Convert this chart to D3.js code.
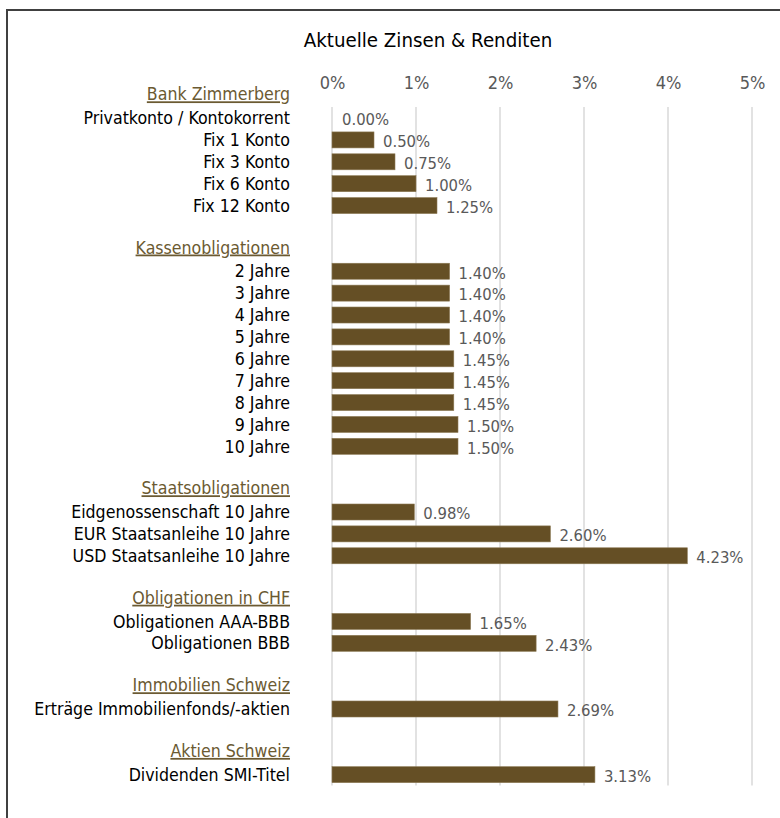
<!DOCTYPE html>
<html><head><meta charset="utf-8">
<script src="https://cdn.jsdelivr.net/npm/d3@7"></script>
<style>body{margin:0;background:#fff}svg{display:block}</style>
</head><body>
<script>
const categories = ["Bank Zimmerberg","Privatkonto / Kontokorrent","Fix 1 Konto","Fix 3 Konto","Fix 6 Konto","Fix 12 Konto","",
"Kassenobligationen","2 Jahre","3 Jahre","4 Jahre","5 Jahre","6 Jahre","7 Jahre","8 Jahre","9 Jahre","10 Jahre","",
"Staatsobligationen","Eidgenossenschaft 10 Jahre","EUR Staatsanleihe 10 Jahre","USD Staatsanleihe 10 Jahre","",
"Obligationen in CHF","Obligationen AAA-BBB","Obligationen BBB","",
"Immobilien Schweiz","Erträge Immobilienfonds/-aktien","",
"Aktien Schweiz","Dividenden SMI-Titel"];
const values = [null,0.00,0.50,0.75,1.00,1.25,null,
null,1.40,1.40,1.40,1.40,1.45,1.45,1.45,1.50,1.50,null,
null,0.98,2.60,4.23,null,
null,1.65,2.43,null,
null,2.69,null,
null,3.13];
const headers = ["Bank Zimmerberg","Kassenobligationen","Staatsobligationen","Obligationen in CHF","Immobilien Schweiz","Aktien Schweiz"];
const tickValues = [0,1,2,3,4,5];
const title = "Aktuelle Zinsen & Renditen";

const W=780,H=818;
const FONT = "'Liberation Sans Narrow','DejaVu Sans Condensed',sans-serif";
const svg = d3.select("body").append("svg").attr("width",W).attr("height",H).style("font-family",FONT);

// frame (only top & left edges visible)
svg.append("path").attr("d","M7,830 V10 H790").attr("fill","none").attr("stroke","#404040").attr("stroke-width",2);

const x = d3.scaleLinear().domain([0,5]).range([332,752]);
const y = d3.scaleBand().domain(d3.range(categories.length)).range([85.2,785.6]);
const step = y.step();

// gridlines
const gTop = y(1), gBot = y.range()[1];
svg.append("g").selectAll("line").data(tickValues).join("line")
  .attr("x1",d=>x(d)).attr("x2",d=>x(d)).attr("y1",gTop).attr("y2",gBot)
  .attr("stroke","#d9d9d9").attr("stroke-width",1.5);

// top axis labels
const axis = d3.axisTop(x).tickValues(tickValues).tickFormat(d=>d+"%").tickSize(0);
const ga = svg.append("g").attr("transform","translate(0,92)").call(axis);
ga.select(".domain").remove();
ga.selectAll("text").attr("fill","#595959").style("font-size","18px").style("font-family",FONT);

// title
svg.append("text").attr("x",428).attr("y",47).attr("text-anchor","middle")
  .style("font-size","20.3px").attr("fill","#000").text(title);

const data = categories.map((c,i)=>({c,i,v:values[i],h:headers.includes(c)}));

// category labels
svg.append("g").selectAll("text").data(data.filter(d=>d.c!=="")).join("text")
  .attr("x",290).attr("y",d=>y(d.i)+step/2 - (d.h?2:0)).attr("dy","0.35em")
  .attr("text-anchor","end")
  .attr("fill",d=>d.h?"#6b5a32":"#000")
  .style("text-decoration",d=>d.h?"underline":null)
  .style("font-size","17.6px").text(d=>d.c);

// bars
const bh = 16;
svg.append("g").selectAll("rect").data(data.filter(d=>d.v!==null)).join("rect")
  .attr("x",x(0)).attr("y",d=>y(d.i)+step/2-bh/2)
  .attr("width",d=>x(d.v)-x(0)).attr("height",bh)
  .attr("fill","#654f25").attr("stroke","#8c7a55").attr("stroke-width",0.6);

// value labels
svg.append("g").selectAll("text").data(data.filter(d=>d.v!==null)).join("text")
  .attr("x",d=>x(d.v)+(d.v===0?10:9)).attr("y",d=>y(d.i)+step/2+1.5).attr("dy","0.35em")
  .attr("fill","#595959").style("font-size","16.5px").text(d=>d.v.toFixed(2)+"%");
</script>
</body></html>
